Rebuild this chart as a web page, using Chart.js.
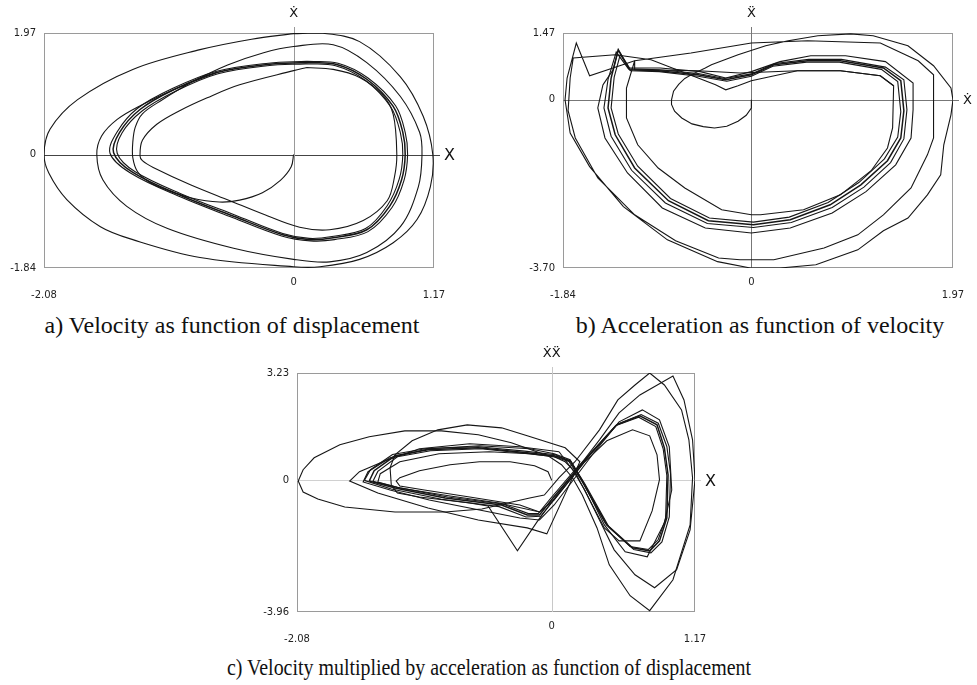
<!DOCTYPE html>
<html>
<head>
<meta charset="utf-8">
<script src="https://cdn.jsdelivr.net/npm/chart.js@4.4.1/dist/chart.umd.min.js"></script>
<style>
  html,body{margin:0;padding:0;background:#fff;}
  #wrap{position:relative;width:977px;height:685px;overflow:hidden;background:#fff;}
  canvas{position:absolute;}
  .cap{position:absolute;font-family:"Liberation Serif","Times New Roman",serif;font-size:24px;color:#111;white-space:nowrap;transform:translateX(-50%);line-height:28px;}
  .capc{transform:translateX(-50%) scaleX(0.83);}
</style>
</head>
<body>
<div id="wrap">
  <canvas id="ca" width="488" height="305" style="left:0;top:0"></canvas>
  <canvas id="cb" width="487" height="305" style="left:490px;top:0"></canvas>
  <canvas id="cc" width="500" height="310" style="left:240px;top:340px"></canvas>
  <div class="cap" style="left:232px;top:311px">a) Velocity as function of displacement</div>
  <div class="cap" style="left:760px;top:311px">b) Acceleration as function of velocity</div>
  <div class="cap capc" style="left:489px;top:653px">c) Velocity multiplied by acceleration as function of displacement</div>
</div>
<script>
// ---------- Chart a: velocity vs displacement ----------
const aXTicks = [-2.08, 0, 1.17];
const aXTickLabels = ['-2.08', '0', '1.17'];
const aYTicks = [1.97, 0, -1.84];
const aYTickLabels = ['1.97', '0', '-1.84'];
const aTitles = ['Ẋ', 'X'];

const aOuter = [[0,1.96],[0.22,1.97],[0.55,1.83],[0.89,1.26],[1.08,0.62],[1.16,0],[1.14,-0.52],[1.03,-1.05],[0.83,-1.43],[0.55,-1.70],[0.22,-1.82],[0,-1.82],[-0.78,-1.67],[-1.34,-1.38],[-1.61,-1.17],[-1.89,-0.73],[-2.04,-0.30],[-2.08,0],[-2.03,0.41],[-1.80,0.89],[-1.34,1.38],[-0.78,1.70],[-0.35,1.87],[0,1.96]];
const aSecond = [[0,0],[-0.02,-0.2],[-0.11,-0.42],[-0.26,-0.62],[-0.45,-0.74],[-0.62,-0.77],[-0.86,-0.70],[-1.05,-0.58],[-1.2,-0.45],[-1.3,-0.28],[-1.34,-0.05],[-1.34,0.2],[-1.32,0.44],[-1.26,0.66],[-1.1,0.88],[-0.85,1.17],[-0.55,1.45],[-0.25,1.65],[0,1.75],[0.33,1.78],[0.61,1.49],[0.89,0.94],[1.05,0.36],[1.07,0],[1.04,-0.52],[0.89,-1.17],[0.61,-1.59],[0.3,-1.74],[0,-1.70],[-0.5,-1.52],[-1.05,-1.2],[-1.39,-0.84],[-1.59,-0.41],[-1.64,0],[-1.60,0.3],[-1.47,0.57],[-1.27,0.80],[-1.0,1.05],[-0.64,1.33]];
const aBundle1 = [[0.11,1.49],[0.36,1.46],[0.61,1.22],[0.83,0.78],[0.91,0.36],[0.93,0],[0.90,-0.41],[0.80,-0.84],[0.61,-1.22],[0.33,-1.35],[0.14,-1.38],[-0.09,-1.30],[-0.50,-1.0],[-0.92,-0.68],[-1.34,-0.29],[-1.50,0.03],[-1.45,0.36],[-1.28,0.73],[-1.00,1.05],[-0.64,1.33],[-0.22,1.46],[0.11,1.49]];
const aBundle2 = [[0.11,1.51],[0.37,1.48],[0.62,1.24],[0.85,0.79],[0.93,0.36],[0.95,0],[0.92,-0.42],[0.82,-0.86],[0.62,-1.25],[0.34,-1.38],[0.14,-1.40],[-0.10,-1.32],[-0.51,-1.02],[-0.94,-0.69],[-1.36,-0.30],[-1.53,0.02],[-1.47,0.37],[-1.30,0.75],[-1.01,1.07],[-0.64,1.35],[-0.21,1.48],[0.11,1.51]];
const aBundle3 = [[0.10,1.47],[0.35,1.44],[0.60,1.20],[0.81,0.77],[0.89,0.35],[0.91,0],[0.88,-0.40],[0.78,-0.83],[0.60,-1.20],[0.32,-1.33],[0.13,-1.36],[-0.09,-1.28],[-0.49,-0.98],[-0.91,-0.66],[-1.32,-0.28],[-1.47,0.02],[-1.43,0.35],[-1.26,0.71],[-0.98,1.03],[-0.63,1.31],[-0.22,1.44],[0.10,1.47]];
const aInner = [[0.11,1.41],[0.33,1.38],[0.55,1.25],[0.74,0.97],[0.83,0.65],[0.86,0],[0.84,-0.37],[0.78,-0.75],[0.58,-1.07],[0.30,-1.22],[0.05,-1.18],[-0.25,-0.97],[-0.53,-0.75],[-0.86,-0.49],[-1.17,-0.21],[-1.26,-0.1],[-1.28,-0.02],[-1.26,0.23],[-1.14,0.49],[-0.95,0.71],[-0.72,0.92],[-0.45,1.13],[0,1.36],[0.11,1.41]];

// ---------- Chart b: acceleration vs velocity ----------
const bXTicks = [-1.84, 0, 1.97];
const bXTickLabels = ['-1.84', '0', '1.97'];
const bYTicks = [1.47, 0, -3.70];
const bYTickLabels = ['1.47', '0', '-3.70'];
const bTitles = ['Ẍ', 'Ẋ'];

const bStart = [[0,0],[0,-0.18],[-0.05,-0.34],[-0.13,-0.47],[-0.24,-0.58],[-0.36,-0.62],[-0.47,-0.59],[-0.58,-0.53],[-0.68,-0.40],[-0.75,-0.25],[-0.78,-0.10],[-0.78,0],[-0.76,0.19],[-0.71,0.34],[-0.65,0.47],[-0.58,0.56],[-0.45,0.70],[-0.39,0.77],[-0.13,0.99],[0.14,1.19],[0.36,1.30],[0.65,1.41],[0.97,1.45],[1.19,1.41],[1.53,1.19],[1.78,0.75],[1.95,0.26],[1.97,0],[1.95,-0.33],[1.88,-0.99],[1.85,-1.65],[1.72,-2.09],[1.53,-2.60],[1.29,-2.88],[1.04,-3.30],[0.63,-3.63],[0.28,-3.70],[-0.01,-3.70],[-0.33,-3.56],[-0.82,-3.08],[-1.25,-2.35],[-1.58,-1.47],[-1.77,-0.73],[-1.82,0],[-1.80,0.48],[-1.71,1.25],[-1.58,0.53],[-1.14,0.86],[-0.59,1.03],[0,1.25],[0.55,1.30],[1.26,1.25],[1.63,0.86],[1.78,0.55],[1.78,-0.84],[1.72,-1.21],[1.56,-1.94],[1.29,-2.53],[1.04,-2.97],[0.71,-3.26],[0.22,-3.52],[-0.11,-3.52],[-0.32,-3.48],[-0.74,-3.10],[-1.14,-2.53],[-1.50,-1.72],[-1.72,-0.84],[-1.79,-0.24],[-1.77,0.48],[-1.74,0.92],[-1.33,0.99],[-0.98,0.88],[-0.52,0.48],[-0.35,0.33],[-0.25,0.22],[-0.13,0.31],[0,0.42],[0.45,0.64],[0.87,0.64],[1.26,0.53],[1.39,0.31]];
const bLoop3 = [[-1.45,0.33],[-1.35,0.66],[-1.30,1.10],[-1.19,0.70],[-0.89,0.70],[-0.50,0.62],[-0.25,0.48],[0,0.62],[0.28,0.84],[0.58,0.97],[0.92,0.97],[1.31,0.84],[1.58,0.37],[1.58,-0.22],[1.56,-0.84],[1.41,-1.43],[1.12,-2.02],[0.79,-2.49],[0.38,-2.82],[0,-2.93],[-0.45,-2.82],[-0.87,-2.38],[-1.21,-1.61],[-1.43,-0.84],[-1.50,-0.18],[-1.45,0.33]];
const bBundle1 = [[-1.37,0.48],[-1.30,1.10],[-1.19,0.66],[-0.91,0.64],[-0.52,0.55],[-0.25,0.44],[0,0.55],[0.22,0.77],[0.55,0.86],[0.87,0.86],[1.29,0.70],[1.46,0.42],[1.49,-0.24],[1.46,-0.84],[1.33,-1.34],[1.07,-1.87],[0.77,-2.31],[0.38,-2.64],[0.02,-2.75],[-0.42,-2.66],[-0.81,-2.22],[-1.14,-1.50],[-1.33,-0.77],[-1.40,-0.18],[-1.37,0.48]];
const bBundle2 = [[-1.40,0.45],[-1.32,1.05],[-1.20,0.68],[-0.90,0.66],[-0.52,0.58],[-0.26,0.47],[0,0.57],[0.23,0.80],[0.56,0.89],[0.88,0.89],[1.31,0.72],[1.49,0.44],[1.52,-0.22],[1.49,-0.86],[1.36,-1.38],[1.10,-1.92],[0.79,-2.37],[0.39,-2.70],[0.02,-2.81],[-0.43,-2.72],[-0.84,-2.27],[-1.17,-1.55],[-1.37,-0.80],[-1.44,-0.18],[-1.40,0.45]];
const bBundle3 = [[-1.34,0.50],[-1.28,1.00],[-1.18,0.64],[-0.90,0.62],[-0.52,0.52],[-0.24,0.41],[0,0.52],[0.21,0.74],[0.54,0.83],[0.86,0.83],[1.27,0.67],[1.43,0.40],[1.46,-0.26],[1.43,-0.82],[1.30,-1.30],[1.05,-1.82],[0.75,-2.26],[0.37,-2.58],[0.02,-2.69],[-0.41,-2.60],[-0.79,-2.17],[-1.11,-1.46],[-1.30,-0.75],[-1.37,-0.18],[-1.34,0.50]];
const bInner = [[-1.14,0.86],[-1.22,0.26],[-1.22,-0.40],[-1.11,-0.99],[-0.91,-1.50],[-0.65,-1.94],[-0.29,-2.42],[0,-2.53],[0.09,-2.53],[0.51,-2.42],[0.87,-2.09],[1.17,-1.56],[1.33,-1.06],[1.38,-0.62],[1.39,0.31],[1.26,0.53],[0.87,0.64],[0.45,0.64],[-0.11,0.59],[-0.52,0.64],[-1.14,0.66],[-1.14,0.86]];

// ---------- Chart c: velocity*acceleration vs displacement ----------
const cXTicks = [-2.08, 0, 1.17];
const cXTickLabels = ['-2.08', '0', '1.17'];
const cYTicks = [3.23, 0, -3.96];
const cYTickLabels = ['3.23', '0', '-3.96'];
const cTitles = ['ẊẌ', 'X'];

const cStart = [[0,0],[-0.03,0.26],[-0.14,0.44],[-0.34,0.56],[-0.59,0.56],[-0.83,0.47],[-1.08,0.29],[-1.24,0.08],[-1.27,-0.02],[-1.24,-0.17],[-1.04,-0.29],[-0.67,-0.50],[-0.26,-0.74],[-0.10,-0.95]];
const cOuter = [[-0.06,-0.44],[0.06,0.08],[0.19,0.56],[0.39,1.52],[0.54,2.42],[0.68,2.87],[0.80,3.23],[0.92,2.87],[1.06,2.12],[1.12,1.22],[1.15,0.08],[1.13,-1.34],[0.99,-2.99],[0.80,-3.92],[0.64,-3.47],[0.47,-2.54],[0.37,-1.43],[0.25,-0.44],[0.17,0.08],[0.08,0.47],[-0.03,0.74],[-0.33,1.13],[-0.60,1.37],[-0.90,1.49],[-1.20,1.49],[-1.49,1.31],[-1.73,1.07],[-1.94,0.68],[-2.03,0.32],[-2.07,-0.02],[-2.03,-0.35],[-1.91,-0.56],[-1.69,-0.80],[-1.28,-0.95],[-0.87,-0.95],[-0.57,-0.86],[-0.36,-0.68],[-0.18,-0.53],[-0.06,-0.44]];
const cSecond = [[0.06,0.86],[-0.26,1.01],[-0.67,1.10],[-1.08,0.95],[-1.36,0.59],[-1.57,0.26],[-1.65,-0.02],[-1.42,-0.38],[-1.01,-0.83],[-0.60,-1.19],[-0.20,-1.43],[-0.04,-1.61],[0.23,0.56],[0.11,0.98],[-0.20,1.34],[-0.41,1.58],[-0.69,1.67],[-0.93,1.52],[-1.14,1.19],[-1.28,0.77],[-1.32,0.38],[-1.31,-0.14],[-1.26,-0.38],[-1.08,-0.50],[-0.67,-0.68],[-0.52,-0.77],[-0.28,-2.12],[-0.12,-1.25],[0.03,-0.50],[0.17,0.17],[0.39,1.22],[0.55,2.03],[0.72,2.57],[0.99,3.14],[1.08,2.42],[1.15,1.22],[1.17,0.02],[1.13,-1.49],[1.02,-2.69],[0.84,-3.23],[0.68,-2.84],[0.51,-2.09],[0.39,-1.19],[0.27,-0.29],[0.17,0.32],[0.06,0.86]];
const cLoop3 = [[0.02,0.80],[0.15,0.62],[0.27,-0.14],[0.43,-1.34],[0.60,-2.15],[0.78,-2.30],[0.92,-1.28],[0.98,-0.29],[0.96,1.01],[0.88,1.82],[0.74,2.12],[0.55,1.76],[0.35,0.86],[0.19,0.08],[0.02,-0.74],[-0.10,-1.19],[-0.26,-1.13],[-0.59,-0.89],[-1.00,-0.59],[-1.32,-0.29],[-1.54,-0.05],[-1.50,0.26],[-1.32,0.68],[-1.00,0.95],[-0.59,1.04],[-0.18,0.95],[0.02,0.80]];
const cInner = [[0.02,0.71],[0.11,0.56],[0.19,0.26],[0.31,-0.59],[0.43,-1.43],[0.55,-1.82],[0.72,-1.82],[0.82,-0.92],[0.88,0.02],[0.86,0.77],[0.80,1.34],[0.66,1.52],[0.45,1.19],[0.27,0.56],[0.15,0.02],[0.02,-0.59],[-0.10,-0.95],[-0.43,-0.68],[-0.83,-0.47],[-1.24,-0.23],[-1.42,-0.05],[-1.40,0.20],[-1.24,0.56],[-0.92,0.80],[-0.51,0.86],[-0.18,0.80],[0.02,0.71]];
const cBundle1 = [[-1.49,-0.02],[-1.45,0.29],[-1.28,0.74],[-1.01,0.92],[-0.60,0.98],[-0.20,0.83],[0.02,0.74],[0.15,0.59],[0.25,-0.02],[0.45,-1.34],[0.66,-2.03],[0.80,-2.12],[0.88,-1.82],[0.94,-1.13],[0.95,0.17],[0.92,0.98],[0.86,1.67],[0.72,1.94],[0.53,1.67],[0.31,0.77],[0.17,0.17],[0.01,-0.53],[-0.10,-1.04],[-0.20,-1.04],[-0.41,-0.74],[-0.87,-0.53],[-1.28,-0.23],[-1.49,-0.02]];
const cBundle2 = [[-1.53,0],[-1.48,0.32],[-1.30,0.78],[-1.02,0.96],[-0.60,1.01],[-0.22,0.88],[0.03,0.77],[0.16,0.55],[0.27,-0.10],[0.47,-1.42],[0.67,-2.08],[0.81,-2.18],[0.90,-1.85],[0.96,-1.10],[0.97,0.20],[0.94,1.02],[0.87,1.72],[0.73,1.98],[0.54,1.70],[0.32,0.80],[0.18,0.15],[0.02,-0.58],[-0.09,-1.08],[-0.21,-1.10],[-0.43,-0.79],[-0.90,-0.57],[-1.31,-0.26],[-1.53,0]];
const cBundle3 = [[-1.46,-0.03],[-1.42,0.27],[-1.26,0.71],[-0.99,0.89],[-0.58,0.95],[-0.19,0.80],[0.02,0.71],[0.14,0.57],[0.24,0.02],[0.44,-1.30],[0.64,-1.99],[0.79,-2.08],[0.87,-1.78],[0.93,-1.15],[0.94,0.14],[0.91,0.95],[0.85,1.62],[0.71,1.90],[0.52,1.64],[0.30,0.75],[0.16,0.19],[0.00,-0.50],[-0.11,-1.00],[-0.19,-1.00],[-0.40,-0.71],[-0.85,-0.50],[-1.26,-0.21],[-1.46,-0.03]];

// ---------- helpers ----------
const LINE = '#161616';
function ds(points, tension, width) {
  return {
    data: points.map(p => ({x: p[0], y: p[1]})),
    showLine: true, borderColor: LINE, borderWidth: width || 1.1,
    pointRadius: 0, pointHoverRadius: 0, fill: false, tension: tension
  };
}

const framePlugin = {
  id: 'frame',
  beforeDatasetsDraw(chart, args, o) {
    const {ctx, chartArea: ca, scales: {x, y}} = chart;
    const x0 = Math.round(x.getPixelForValue(0)) + 0.5;
    const y0 = Math.round(y.getPixelForValue(0)) + 0.5;
    ctx.save();
    ctx.lineWidth = 1;
    ctx.strokeStyle = o.box;
    ctx.strokeRect(Math.round(ca.left) + 0.5, Math.round(ca.top) + 0.5, Math.round(ca.right - ca.left) - 1, Math.round(ca.bottom - ca.top) - 1);
    ctx.strokeStyle = o.hAxis;
    ctx.beginPath(); ctx.moveTo(ca.left, y0); ctx.lineTo(ca.right + 6, y0); ctx.stroke();
    ctx.strokeStyle = o.vAxis;
    ctx.beginPath(); ctx.moveTo(x0, ca.bottom); ctx.lineTo(x0, ca.top - 6); ctx.stroke();
    ctx.restore();
  },
  afterDraw(chart, args, o) {
    const {ctx, chartArea: ca, scales: {x, y}} = chart;
    const x0 = x.getPixelForValue(0), y0 = y.getPixelForValue(0);
    ctx.save();
    ctx.fillStyle = '#222';
    ctx.font = '10px "DejaVu Sans", Verdana, sans-serif';
    ctx.textAlign = 'right'; ctx.textBaseline = 'middle';
    o.yTicks.forEach((v, i) => ctx.fillText(o.yLabels[i], ca.left - 8, y.getPixelForValue(v)));
    ctx.textAlign = 'center';
    o.xTicks.forEach((v, i) => {
      const yy = v === 0 ? ca.bottom + 14 : ca.bottom + 27;
      ctx.fillText(o.xLabels[i], x.getPixelForValue(v), yy);
    });
    ctx.fillStyle = '#111';
    ctx.font = '13px "DejaVu Sans", Verdana, sans-serif';
    ctx.fillText(o.titles[0], x0, ca.top - 19);
    ctx.font = o.rightFont;
    ctx.textAlign = 'left';
    ctx.fillText(o.titles[1], ca.right + 10, y0 + 1);
    ctx.restore();
  }
};

function makeChart(id, datasets, xr, yr, pad, frame) {
  return new Chart(document.getElementById(id), {
    type: 'scatter',
    data: {datasets},
    options: {
      responsive: false, animation: false, devicePixelRatio: 1,
      layout: {padding: pad},
      plugins: {legend: {display: false}, tooltip: {enabled: false}, title: {display: false}, frame},
      scales: {
        x: {type: 'linear', min: xr[0], max: xr[1], display: false},
        y: {type: 'linear', min: yr[0], max: yr[1], display: false}
      },
      events: []
    },
    plugins: [framePlugin]
  });
}

makeChart('ca',
  [ds(aOuter,0.35), ds(aSecond,0.35), ds(aBundle1,0.35,1.5), ds(aBundle2,0.35), ds(aBundle3,0.35), ds(aInner,0.35)],
  [aXTicks[0], aXTicks[2]], [aYTicks[2], aYTicks[0]],
  {left: 44, top: 33, right: 54, bottom: 37},
  {box: '#9a9a9a', hAxis: '#444', vAxis: '#999', xTicks: aXTicks, xLabels: aXTickLabels, yTicks: aYTicks, yLabels: aYTickLabels, titles: aTitles, rightFont: '16px "DejaVu Sans", Verdana, sans-serif'});

makeChart('cb',
  [ds(bStart,0), ds(bLoop3,0), ds(bBundle1,0,1.5), ds(bBundle2,0), ds(bBundle3,0), ds(bInner,0)],
  [bXTicks[0], bXTicks[2]], [bYTicks[2], bYTicks[0]],
  {left: 73, top: 33, right: 24, bottom: 37},
  {box: '#9a9a9a', hAxis: '#777', vAxis: '#777', xTicks: bXTicks, xLabels: bXTickLabels, yTicks: bYTicks, yLabels: bYTickLabels, titles: bTitles, rightFont: '13px "DejaVu Sans", Verdana, sans-serif'});

makeChart('cc',
  [ds(cStart,0), ds(cOuter,0), ds(cSecond,0), ds(cLoop3,0), ds(cInner,0), ds(cBundle1,0,1.5), ds(cBundle2,0), ds(cBundle3,0)],
  [cXTicks[0], cXTicks[2]], [cYTicks[2], cYTicks[0]],
  {left: 57, top: 33, right: 45, bottom: 38},
  {box: '#9a9a9a', hAxis: '#d0d0d0', vAxis: '#c8c8c8', xTicks: cXTicks, xLabels: cXTickLabels, yTicks: cYTicks, yLabels: cYTickLabels, titles: cTitles, rightFont: '16px "DejaVu Sans", Verdana, sans-serif'});
</script>
</body>
</html>
